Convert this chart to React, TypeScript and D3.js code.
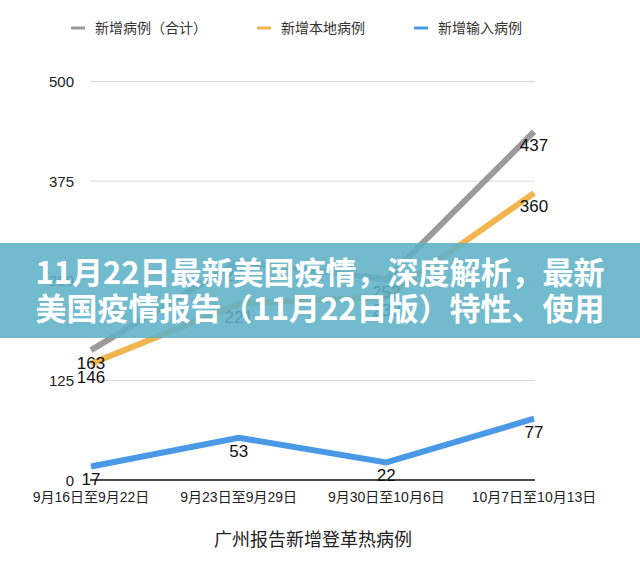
import React from "react";
import * as d3 from "d3";

const categories = ["9月16日至9月22日", "9月23日至9月29日", "9月30日至10月6日", "10月7日至10月13日"];
const totalCases = [163, 274, 252, 437];
const localCases = [146, 221, 230, 360];
const importedCases = [17, 53, 22, 77];
const seriesNames = ["新增病例（合计）", "新增本地病例", "新增输入病例"];
const yTicks = [0, 125, 250, 375, 500];
const chartTitle = "广州报告新增登革热病例";
const bannerLines = ["11月22日最新美国疫情，深度解析，最新", "美国疫情报告（11月22日版）特性、使用"];

const colors = ["#9b9b9b", "#f2b54e", "#4a99e6"];
const FONT = "'Liberation Sans', Arial, 'Noto Sans CJK SC', sans-serif";

export default function App() {
  const W = 640, H = 583;
  const x = d3.scalePoint<string>().domain(categories).range([91, 534]).padding(0);
  const y = d3.scaleLinear().domain([0, 500]).range([480, 81.5]);
  const series = [totalCases, localCases, importedCases];
  const line = d3
    .line<number>()
    .x((_, i) => x(categories[i]) as number)
    .y((d) => y(d));

  const legendX = [71, 257, 414];

  return (
    <svg width={W} height={H} style={{ position: "absolute", left: 0, top: 0, background: "#fff" }} fontFamily={FONT}>
      {/* legend */}
      {seriesNames.map((n, i) => (
        <g key={n}>
          <line x1={legendX[i]} x2={legendX[i] + 14} y1={28} y2={28} stroke={colors[i]} strokeWidth={3} />
          <text x={legendX[i] + 24} y={28} dominantBaseline="central" fontSize={14} fill="#333">
            {n}
          </text>
        </g>
      ))}
      {/* grid */}
      {yTicks.map((t) => (
        <g key={t}>
          {t !== 0 && <line x1={90} x2={535} y1={y(t)} y2={y(t)} stroke="#d8d8d8" strokeWidth={1} />}
          <text x={74} y={y(t)} textAnchor="end" dominantBaseline="central" fontSize={15} fill="#222">
            {t}
          </text>
        </g>
      ))}
      <line x1={90} x2={535} y1={y(0)} y2={y(0)} stroke="#111" strokeWidth={1.5} />
      {/* x labels */}
      {categories.map((c) => (
        <text key={c} x={x(c)} y={497} textAnchor="middle" dominantBaseline="central" fontSize={14} fill="#222">
          {c}
        </text>
      ))}
      {/* lines */}
      {series.map((s, i) => (
        <path key={i} d={line(s) || ""} fill="none" stroke={colors[i]} strokeWidth={6} strokeLinejoin="miter" />
      ))}
      {/* data labels */}
      {series.map((s, i) =>
        s.map((v, j) => (
          <text
            key={`${i}-${j}`}
            x={x(categories[j])}
            y={y(v) + 19}
            textAnchor="middle"
            fontSize={17}
            fill="#111"
          >
            {v}
          </text>
        ))
      )}
      {/* title */}
      <text x={313} y={540} textAnchor="middle" dominantBaseline="central" fontSize={18} fill="#222">
        {chartTitle}
      </text>
      {/* overlay banner */}
      <rect x={0} y={243} width={640} height={95} fill="rgb(94,178,200)" fillOpacity={0.88} />
      {bannerLines.map((l, i) => (
        <text
          key={i}
          x={320}
          y={284 + i * 36}
          textAnchor="middle"
          fontSize={31}
          fontWeight={700}
          fill="#fff"
          fontFamily="'Noto Sans CJK SC', sans-serif"
        >
          {l}
        </text>
      ))}
    </svg>
  );
}
